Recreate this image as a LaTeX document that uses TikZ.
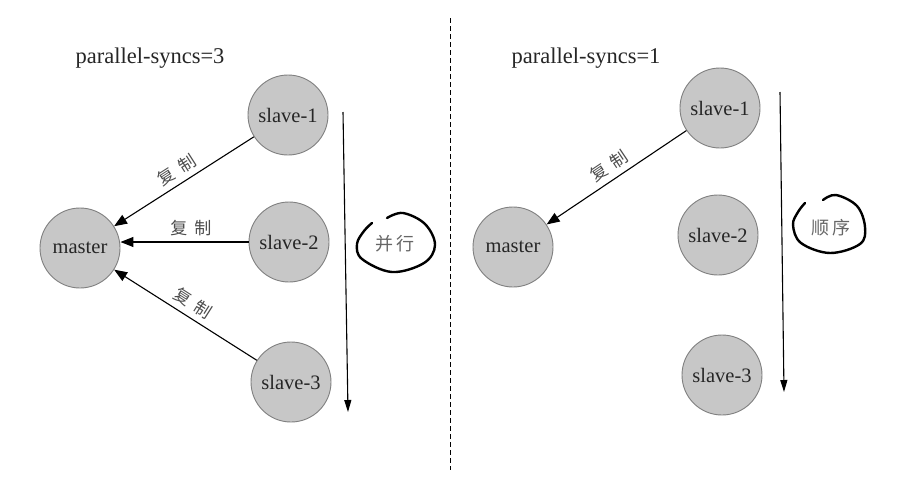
\documentclass[tikz,border=0pt]{standalone}
\usepackage{fontspec}
\setmainfont{Liberation Serif}
\newfontfamily\serifA{Liberation Serif}
\newfontfamily\cjk{Noto Sans CJK SC}
\usetikzlibrary{arrows.meta}
\begin{document}
\begin{tikzpicture}[x=1pt,y=-1pt,
  nodecirc/.style={circle,draw=black!50,line width=0.9pt,fill=black!22,minimum size=80pt,inner sep=0pt,font=\serifA\fontsize{20.5}{22}\selectfont,text=black!85},
  titletext/.style={font=\serifA\fontsize{22.5}{24}\selectfont,text=black!85},
  repl/.style={line width=1.1pt,-{Triangle[length=13pt,width=10pt]}},
  seqarrow/.style={line width=1.1pt,-{Triangle[length=12pt,width=7pt]}},
  cjklabel/.style={font=\cjk\fontsize{17}{18}\selectfont,text=black!70},
  circtext/.style={font=\cjk\fontsize{18}{19}\selectfont,text=black!60},
  loopmark/.style={line width=2.4pt,line cap=round,line join=round}
]
\useasboundingbox (0,0) rectangle (904,480);
\fill[white] (0,0) rectangle (904,480);

% divider
\coordinate (dtop) at (450,18);
\coordinate (dbot) at (450,470);
\draw[line width=0.9pt,dash pattern=on 5pt off 3pt] (dtop) -- (dbot);

% ---------- left ----------
\node[titletext] (t1) at (150,58) {parallel-syncs=3};
\node[nodecirc] (m1) at (80,248) {master};
\node[nodecirc] (a1) at (288,115) {slave-1};
\node[nodecirc] (b1) at (289,242) {slave-2};
\node[nodecirc] (c1) at (291,382) {slave-3};

\draw[repl] (a1) -- node[sloped,above,cjklabel,pos=0.5,yshift=2pt] {复\hspace{7pt}制} (m1);
\draw[repl] (b1.west) -- node[above,cjklabel,pos=0.45,yshift=2pt] {复\hspace{7pt}制} (b1.west -| m1.east);
\draw[repl] (c1) -- node[sloped,above,cjklabel,pos=0.5,yshift=2pt] {复\hspace{7pt}制} (m1);

\coordinate (s1top) at (343,112);
\coordinate (s1bot) at (348,412);
\draw[seqarrow] (s1top) -- (s1bot);

\node[circtext] (p1) at (395,244) {并\hspace{3pt}行};
\draw[loopmark] plot[smooth,tension=0.6] coordinates {(387,218) (403,213) (425,224) (435,245) (424,263) (392,272) (362,259) (357,244) (364,231) (372,223)};

% ---------- right ----------
\node[titletext] (t2) at (586,58) {parallel-syncs=1};
\node[nodecirc] (m2) at (513,247) {master};
\node[nodecirc] (a2) at (720,108) {slave-1};
\node[nodecirc] (b2) at (718,235) {slave-2};
\node[nodecirc] (c2) at (722,375) {slave-3};

\draw[repl] (a2) -- node[sloped,above,cjklabel,pos=0.5,yshift=2pt] {复\hspace{7pt}制} (m2);

\coordinate (s2top) at (780,92);
\coordinate (s2bot) at (784,392);
\draw[seqarrow] (s2top) -- (s2bot);

\node[circtext] (p2) at (831,228) {顺\hspace{3pt}序};
\draw[loopmark] plot[smooth,tension=0.6] coordinates {(823,200) (836,195) (857,206) (865,227) (860,244) (830,253) (801,243) (793,225) (798,212) (805,203)};
\end{tikzpicture}
\end{document}
